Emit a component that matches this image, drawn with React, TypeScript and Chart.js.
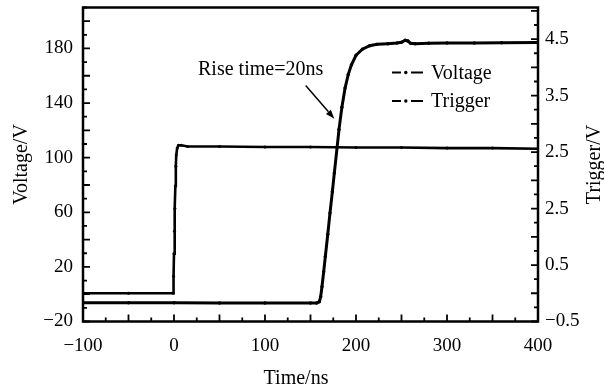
import React, { useEffect, useRef } from "react";
import { Chart, registerables } from "chart.js";

Chart.register(...registerables);

// ---- data ----
const voltageTime = [-100, -50, 0, 50, 100, 150, 156.8, 159.7, 161.2, 162.6, 164.5, 166.3, 169, 171.4, 174, 176.2, 179.3, 181.3, 184.5, 188, 191.5, 195, 200, 207, 215, 223, 235, 245, 250, 254, 257, 260, 265, 280, 300, 330, 360, 400];
const voltageValues = [-6.2, -6.3, -6.3, -6.4, -6.4, -6.5, -6.5, -5.5, -1.8, 5.5, 16.5, 27.6, 44, 59.4, 75, 88.8, 107.9, 120.6, 137, 151, 161, 168, 175, 179.5, 182, 183, 183.5, 184, 184.5, 186, 185.5, 183.8, 183.5, 183.8, 184, 184, 184.2, 184.3];

const triggerTime = [-100, -50, -1, -0.5, 0, 0.5, 1, 1.5, 2, 2.5, 3.5, 5, 8, 15, 50, 100, 150, 200, 250, 300, 350, 400];
const triggerValues = [0.0, 0.0, 0.0, 0.3, 0.7, 1.1, 1.5, 1.9, 2.25, 2.45, 2.57, 2.62, 2.62, 2.6, 2.6, 2.59, 2.59, 2.58, 2.58, 2.57, 2.57, 2.56];

const seriesNames = ["Voltage", "Trigger"];

const xTickValues = [-100, 0, 100, 200, 300, 400];
const yTickValues = [-20, 20, 60, 100, 140, 180];
const y2TickValues = [-0.5, 0.5, 1.5, 2.5, 3.5, 4.5];
const y2TickLabels = ["\u22120.5", "0.5", "2.5", "2.5", "3.5", "4.5"];

const xTitle = "Time/ns";
const yTitle = "Voltage/V";
const y2Title = "Trigger/V";

const annotationText = "Rise time=20ns";
// annotation anchors in data units (time, voltage)
const annotationTextAt = [26.4, 160.2];
const arrowFrom = [144.7, 152.8];
const arrowTo = [176.2, 128.6];

const FONT = '"Liberation Serif", "Times New Roman", serif';

const fmt = (v: number) => (v < 0 ? "\u2212" + Math.abs(v) : String(v));

const noPad = (s: any) => {
  s.paddingTop = 0;
  s.paddingBottom = 0;
  s.paddingLeft = 0;
  s.paddingRight = 0;
};

const overlay = {
  id: "overlay",
  afterDraw(chart: any) {
    const { ctx, chartArea: a, scales } = chart;
    const xs = scales.x, ys = scales.y, y2s = scales.y2;
    ctx.save();
    ctx.strokeStyle = "#000";
    ctx.fillStyle = "#000";

    // inward ticks
    ctx.lineWidth = 1.8;
    ctx.beginPath();
    for (let i = 0; i <= 20; i++) {
      const v = -100 + 25 * i;
      const px = xs.getPixelForValue(v);
      const len = i % 2 === 0 ? 7 : 4;
      ctx.moveTo(px, a.bottom);
      ctx.lineTo(px, a.bottom - len);
    }
    for (let i = 0; i <= 23; i++) {
      const v = -20 + 10 * i;
      if (v > ys.max) break;
      const py = ys.getPixelForValue(v);
      const len = i % 2 === 0 ? 7 : 4;
      ctx.moveTo(a.left, py);
      ctx.lineTo(a.left + len, py);
    }
    for (let i = 0; i <= 23; i++) {
      const v = -0.5 + 0.25 * i;
      if (v > y2s.max) break;
      const py = y2s.getPixelForValue(v);
      const len = i % 2 === 0 ? 7 : 4;
      ctx.moveTo(a.right, py);
      ctx.lineTo(a.right - len, py);
    }
    ctx.stroke();

    // frame
    ctx.lineWidth = 2.5;
    ctx.strokeRect(a.left, a.top, a.right - a.left, a.bottom - a.top);

    // axis titles
    ctx.font = "20px " + FONT;
    ctx.textAlign = "center";
    ctx.textBaseline = "middle";
    ctx.fillText(xTitle, 296, 379);
    const cy = (a.top + a.bottom) / 2;
    ctx.save();
    ctx.translate(21.5, cy);
    ctx.rotate(-Math.PI / 2);
    ctx.fillText(yTitle, 0, 0);
    ctx.restore();
    ctx.save();
    ctx.translate(595, cy);
    ctx.rotate(-Math.PI / 2);
    ctx.fillText(y2Title, 0, 0);
    ctx.restore();

    // legend
    const lx = a.left + 309;
    const rows = [a.top + 65, a.top + 93.5];
    seriesNames.forEach((name, k) => {
      const yy = rows[k];
      ctx.lineWidth = 2;
      ctx.beginPath();
      ctx.moveTo(lx, yy);
      ctx.lineTo(lx + 9, yy);
      ctx.moveTo(lx + 19, yy);
      ctx.lineTo(lx + 31, yy);
      ctx.stroke();
      ctx.beginPath();
      ctx.arc(lx + 13.8, yy, 1.7, 0, Math.PI * 2);
      ctx.fill();
      ctx.textAlign = "left";
      ctx.textBaseline = "middle";
      ctx.fillText(name, lx + 39, yy + 1);
    });

    // annotation
    ctx.textAlign = "left";
    ctx.textBaseline = "alphabetic";
    ctx.fillText(annotationText, xs.getPixelForValue(annotationTextAt[0]), ys.getPixelForValue(annotationTextAt[1]));
    const x1 = xs.getPixelForValue(arrowFrom[0]), y1 = ys.getPixelForValue(arrowFrom[1]);
    const x2 = xs.getPixelForValue(arrowTo[0]), y2 = ys.getPixelForValue(arrowTo[1]);
    const ang = Math.atan2(y2 - y1, x2 - x1);
    const hl = 9, hw = 3.2;
    const bx = x2 - hl * Math.cos(ang), by = y2 - hl * Math.sin(ang);
    ctx.lineWidth = 1.5;
    ctx.beginPath();
    ctx.moveTo(x1, y1);
    ctx.lineTo(bx, by);
    ctx.stroke();
    ctx.beginPath();
    ctx.moveTo(x2, y2);
    ctx.lineTo(bx + hw * Math.sin(ang), by - hw * Math.cos(ang));
    ctx.lineTo(bx - hw * Math.sin(ang), by + hw * Math.cos(ang));
    ctx.closePath();
    ctx.fill();

    ctx.restore();
  },
};

export default function App() {
  const ref = useRef<HTMLCanvasElement | null>(null);
  useEffect(() => {
    if (!ref.current) return;
    const tickFont = { family: FONT, size: 19 };
    const chart = new Chart(ref.current, {
      type: "scatter",
      data: {
        datasets: [
          {
            label: seriesNames[0],
            data: voltageTime.map((t, i) => ({ x: t, y: voltageValues[i] })),
            yAxisID: "y",
            showLine: true,
            borderColor: "#000",
            backgroundColor: "#000",
            borderWidth: 3,
            pointRadius: 1.7,
            pointBorderWidth: 0,
            tension: 0,
          },
          {
            label: seriesNames[1],
            data: triggerTime.map((t, i) => ({ x: t, y: triggerValues[i] })),
            yAxisID: "y2",
            showLine: true,
            borderColor: "#000",
            backgroundColor: "#000",
            borderWidth: 2.6,
            pointRadius: 1.5,
            pointBorderWidth: 0,
            tension: 0,
          },
        ],
      },
      options: {
        animation: false,
        responsive: false,
        devicePixelRatio: 1,
        events: [],
        layout: { padding: { top: 7.5, left: 0, right: 0, bottom: 0 } },
        plugins: { legend: { display: false }, tooltip: { enabled: false } },
        scales: {
          x: {
            type: "linear",
            position: "bottom",
            min: -100,
            max: 400,
            grid: { display: false, drawTicks: false },
            border: { display: false },
            ticks: { font: tickFont, color: "#000", padding: 13, maxRotation: 0, autoSkip: false, callback: (v: any) => fmt(Number(v)) },
            afterBuildTicks: (s: any) => { s.ticks = xTickValues.map((v) => ({ value: v })); },
            afterFit: (s: any) => { s.height = 67.5; noPad(s); },
          },
          y: {
            type: "linear",
            position: "left",
            min: -20,
            max: 210,
            grid: { display: false, drawTicks: false },
            border: { display: false },
            ticks: { font: tickFont, color: "#000", padding: 10, autoSkip: false, callback: (v: any) => fmt(Number(v)) },
            afterBuildTicks: (s: any) => { s.ticks = yTickValues.map((v) => ({ value: v })); },
            afterFit: (s: any) => { s.width = 83; noPad(s); },
          },
          y2: {
            type: "linear",
            position: "right",
            min: -0.5,
            max: 5.06,
            grid: { display: false, drawTicks: false },
            border: { display: false },
            ticks: {
              font: tickFont,
              color: "#000",
              padding: 7,
              autoSkip: false,
              callback: (v: any) => {
                const k = y2TickValues.findIndex((t) => Math.abs(t - Number(v)) < 1e-6);
                return k >= 0 ? y2TickLabels[k] : "";
              },
            },
            afterBuildTicks: (s: any) => { s.ticks = y2TickValues.map((v) => ({ value: v })); },
            afterFit: (s: any) => { s.width = 66; noPad(s); },
          },
        },
      },
      plugins: [overlay],
    });
    return () => chart.destroy();
  }, []);
  return (
    <div style={{ position: "fixed", left: 0, top: 0, width: 604, height: 389, background: "#fff" }}>
      <canvas ref={ref} width={604} height={389} style={{ display: "block", width: 604, height: 389 }} />
    </div>
  );
}
